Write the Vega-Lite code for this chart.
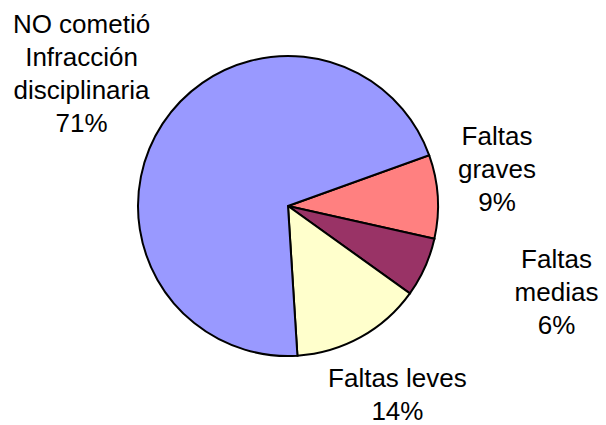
{
  "$schema": "https://vega.github.io/schema/vega-lite/v6.json",
  "width": 576,
  "height": 412,
  "autosize": {"type": "none"},
  "padding": {"left": 0, "top": 0, "right": 30, "bottom": 13},
  "background": "white",
  "config": {"view": {"stroke": null}, "text": {"font": "Liberation Sans", "fontSize": 26, "lineHeight": 33, "color": "black"}},
  "data": {"values": [
    {"ord": 1, "cat": "Faltas graves", "value": 9, "label": ["Faltas", "graves", "9%"]},
    {"ord": 2, "cat": "Faltas medias", "value": 6.4, "label": ["Faltas", "medias", "6%"]},
    {"ord": 3, "cat": "Faltas leves", "value": 14.1, "label": ["Faltas leves", "14%"]},
    {"ord": 4, "cat": "NO cometió Infracción disciplinaria", "value": 70.5, "label": ["NO cometió", "Infracción", "disciplinaria", "71%"]}
  ]},
  "transform": [
    {"stack": "value", "groupby": [], "sort": [{"field": "ord", "order": "ascending"}], "as": ["v0", "v1"]},
    {"calculate": "(datum.v0 + datum.v1) / 2", "as": "mid"}
  ],
  "layer": [
    {
      "mark": {"type": "arc", "outerRadius": 150, "stroke": "black", "strokeWidth": 2, "strokeJoin": "miter"},
      "encoding": {
        "theta": {"field": "v0", "type": "quantitative", "scale": {"domain": [0, 100], "range": [1.2252, 7.5084]}},
        "theta2": {"field": "v1"},
        "color": {"field": "cat", "type": "nominal", "legend": null,
          "scale": {"domain": ["Faltas graves", "Faltas medias", "Faltas leves", "NO cometió Infracción disciplinaria"],
                    "range": ["#FF8080", "#993366", "#FFFFCC", "#9999FF"]}}
      }
    },
    {
      "transform": [{"filter": "datum.ord == 1"}],
      "mark": {"type": "text", "radius": 212, "dx": -2.6, "dy": -47.7, "baseline": "alphabetic", "align": "center"},
      "encoding": {"theta": {"field": "mid", "type": "quantitative"}, "text": {"field": "label"}}
    },
    {
      "transform": [{"filter": "datum.ord == 2"}],
      "mark": {"type": "text", "radius": 282, "dx": 11.1, "dy": -53.1, "baseline": "alphabetic", "align": "center"},
      "encoding": {"theta": {"field": "mid", "type": "quantitative"}, "text": {"field": "label"}}
    },
    {
      "transform": [{"filter": "datum.ord == 3"}],
      "mark": {"type": "text", "radius": 218, "dx": 3.8, "dy": -9.7, "baseline": "alphabetic", "align": "center"},
      "encoding": {"theta": {"field": "mid", "type": "quantitative"}, "text": {"field": "label"}}
    },
    {
      "transform": [{"filter": "datum.ord == 4"}],
      "mark": {"type": "text", "radius": 245, "dx": -1.7, "dy": -38.5, "baseline": "alphabetic", "align": "center"},
      "encoding": {"theta": {"field": "mid", "type": "quantitative"}, "text": {"field": "label"}}
    }
  ]
}
